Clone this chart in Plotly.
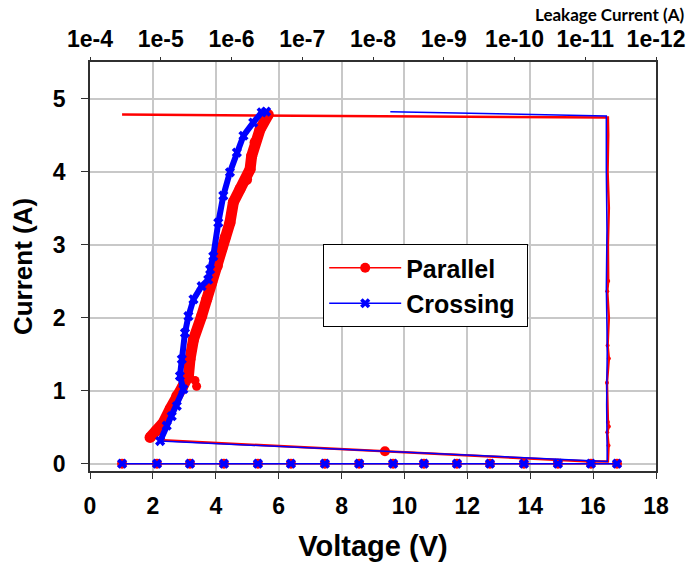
import plotly.graph_objects as go

# ---------------- data ----------------
# bottom row (leakage points at 0 A)
row_v = [1.02, 2.13, 3.18, 4.26, 5.34, 6.39, 7.47, 8.56, 9.64, 10.62, 11.67, 12.72, 13.8, 14.88, 15.93, 16.76]
row_i = [0.0] * len(row_v)

# Parallel I-V sweep
par_v = [1.91, 2.10, 2.33, 2.55, 2.76, 2.95, 3.13, 3.18, 3.29, 3.55, 3.71, 3.87, 4.05, 4.19, 4.30, 4.45, 4.56, 4.77, 4.98, 5.09, 5.14, 5.25, 5.41, 5.67]
par_i = [0.36, 0.45, 0.56, 0.75, 0.93, 1.05, 1.20, 1.43, 1.70, 2.02, 2.25, 2.48, 2.71, 2.94, 3.10, 3.30, 3.58, 3.76, 3.89, 4.03, 4.21, 4.40, 4.58, 4.78]
par_out_v = [3.34, 3.39]
par_out_i = [1.14, 1.06]

# Parallel return path (diagonal, vertical, top)
par_ret_v = [2.33, 9.38, 15.90, 16.47, 16.49, 16.45, 16.50, 16.47, 16.44, 16.50, 16.46, 16.50, 16.45, 16.48, 16.47, 16.50, 16.46, 16.48, 16.47, 1.02]
par_ret_i = [0.32, 0.17, 0.03, 0.03, 0.25, 0.43, 0.51, 0.57, 1.11, 1.44, 1.62, 2.00, 2.36, 2.50, 3.00, 3.50, 4.00, 4.50, 4.74, 4.78]
par_dot_v = [9.38]
par_dot_i = [0.17]
par_bump_v = [16.49, 16.45, 16.50, 16.47, 16.44, 16.50, 16.46, 16.45, 16.48]
par_bump_i = [0.25, 0.43, 0.51, 0.57, 1.11, 1.44, 1.62, 2.36, 2.50]

# Crossing I-V sweep
cro_v = [2.23, 2.44, 2.60, 2.76, 2.97, 2.86, 2.92, 3.02, 3.13, 3.29, 3.55, 3.76, 3.82, 3.92, 4.08, 4.24, 4.45, 4.67, 4.88, 5.19, 5.46, 5.60]
cro_i = [0.31, 0.52, 0.65, 0.79, 1.02, 1.20, 1.43, 1.79, 2.02, 2.25, 2.43, 2.52, 2.66, 2.84, 3.30, 3.67, 3.99, 4.26, 4.49, 4.67, 4.81, 4.82]

# Crossing return path
cro_ret_v = [2.23, 15.95, 16.45, 16.43, 16.45, 16.42, 16.44, 16.42, 16.42, 9.55]
cro_ret_i = [0.31, 0.03, 0.03, 0.80, 1.60, 2.40, 3.20, 4.00, 4.76, 4.82]

# axes
x_ticks = [0, 2, 4, 6, 8, 10, 12, 14, 16, 18]
y_ticks = [0, 1, 2, 3, 4, 5]
top_vals = [1e-4, 1e-5, 1e-6, 1e-7, 1e-8, 1e-9, 1e-10, 1e-11, 1e-12]
top_text = ["1e-4", "1e-5", "1e-6", "1e-7", "1e-8", "1e-9", "1e-10", "1e-11", "1e-12"]

RED = "#ff0000"
BLUE = "#0000ff"
FONT = "Liberation Sans, Arial, sans-serif"
NB = "\u00a0"

fig = go.Figure()

# ---- Parallel (red) ----
fig.add_trace(go.Scatter(x=par_ret_v, y=par_ret_i, mode="lines",
                         line=dict(color=RED, width=2.5), showlegend=False, hoverinfo="skip"))
fig.add_trace(go.Scatter(x=par_bump_v, y=par_bump_i, mode="markers",
                         marker=dict(color=RED, size=4), showlegend=False, hoverinfo="skip"))
fig.add_trace(go.Scatter(x=par_dot_v, y=par_dot_i, mode="markers",
                         marker=dict(color=RED, size=10), showlegend=False, hoverinfo="skip"))
fig.add_trace(go.Scatter(x=par_v, y=par_i, mode="lines+markers",
                         line=dict(color=RED, width=11), marker=dict(color=RED, size=11),
                         showlegend=False, hoverinfo="skip"))
fig.add_trace(go.Scatter(x=par_out_v, y=par_out_i, mode="markers",
                         marker=dict(color=RED, size=9), showlegend=False, hoverinfo="skip"))
fig.add_trace(go.Scatter(x=row_v, y=row_i, mode="lines+markers", name="Parallel",
                         line=dict(color=RED, width=1.5), marker=dict(color=RED, size=10, symbol="circle")))

# ---- Crossing (blue) ----
fig.add_trace(go.Scatter(x=cro_ret_v, y=cro_ret_i, mode="lines",
                         line=dict(color=BLUE, width=1.5), showlegend=False, hoverinfo="skip"))
fig.add_trace(go.Scatter(x=cro_v, y=cro_i, mode="lines+markers",
                         line=dict(color=BLUE, width=6), marker=dict(color=BLUE, size=9, symbol="x"),
                         showlegend=False, hoverinfo="skip"))
fig.add_trace(go.Scatter(x=row_v, y=row_i, mode="lines+markers", name="Crossing" + NB,
                         line=dict(color=BLUE, width=1.5), marker=dict(color=BLUE, size=9, symbol="x")))

# invisible trace to anchor the top log axis
fig.add_trace(go.Scatter(x=[1e-4, 1e-12], y=[None, None], xaxis="x2", mode="markers",
                         showlegend=False, hoverinfo="skip", marker=dict(opacity=0)))

fig.update_layout(
    width=688, height=571,
    margin=dict(l=90, r=32, t=62, b=100, autoexpand=False),
    paper_bgcolor="white", plot_bgcolor="white",
    font=dict(family=FONT, color="black"),
    xaxis=dict(range=[0, 18], tickvals=x_ticks, showgrid=True, gridcolor="#c8c8c8", gridwidth=1.5,
               zeroline=False, showline=True, linecolor="#303030", linewidth=1.5, mirror=True,
               ticks="outside", ticklen=6, tickcolor="#303030", automargin=False,
               ticklabelstandoff=8,
               tickfont=dict(size=23, family=FONT, weight="bold"),
               title=dict(text="<b>Voltage (V)</b>", font=dict(size=29, family=FONT), standoff=17)),
    yaxis=dict(range=[-0.1, 5.5], tickvals=y_ticks, showgrid=True, gridcolor="#c8c8c8", gridwidth=1.5,
               zeroline=False, showline=True, linecolor="#303030", linewidth=1.5, mirror=True,
               ticks="outside", ticklen=7, tickcolor="#303030", automargin=False,
               ticklabelstandoff=11,
               tickfont=dict(size=23, family=FONT, weight="bold"),
               title=dict(text="<b>Current (A)</b>", font=dict(size=26, family=FONT), standoff=13)),
    xaxis2=dict(type="log", range=[-4, -12], overlaying="x", side="top", anchor="y",
                tickvals=top_vals, ticktext=top_text, showgrid=False, zeroline=False,
                showline=False, ticks="outside", ticklen=4, tickcolor="#303030", automargin=False,
                ticklabelstandoff=1,
                tickfont=dict(size=23, family=FONT, weight="bold")),
    legend=dict(x=0.412, y=0.555, xanchor="left", yanchor="top",
                bgcolor="white", bordercolor="black", borderwidth=1, itemwidth=72,
                font=dict(size=25, family=FONT, weight="bold"), tracegroupgap=0),
    annotations=[dict(text="<b>Leakage Current (A)</b>", xref="paper", yref="paper",
                      x=1.0, xshift=30, y=1.117, xanchor="right", yanchor="middle", showarrow=False,
                      font=dict(size=17, family="Lato, sans-serif"))],
)

fig.write_html("out.html")
